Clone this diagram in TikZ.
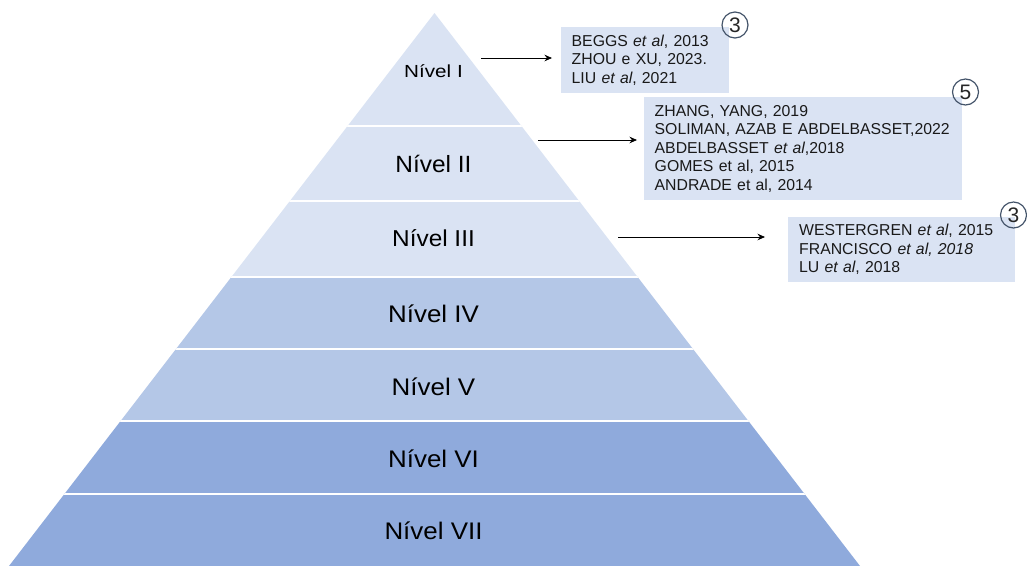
\documentclass[tikz,border=0pt]{standalone}
\usepackage{fontspec}
\setmainfont{Liberation Sans}
\usetikzlibrary{arrows.meta}
\definecolor{lightb}{HTML}{DAE3F3}
\definecolor{midb}{HTML}{B4C7E7}
\definecolor{darkb}{HTML}{8FAADC}
\definecolor{circ}{HTML}{44546A}
\begin{document}
\begin{tikzpicture}[x=1pt,y=-1pt,
  lvl/.style={anchor=base, inner sep=0pt, text=black},
  refbox/.style={fill=lightb, draw=none, anchor=north west, align=left,
     inner ysep=0pt, font=\fontsize{15.8}{18.5}\selectfont, text=black!90},
  num/.style={circle, draw=circ, line width=1.2pt, minimum size=26pt, inner sep=0pt,
     font=\fontsize{21}{22}\selectfont, text=black!85},
  arr/.style={-{Stealth[length=7.5pt,width=6.5pt]}, line width=0.8pt, black}]
\useasboundingbox (0,0) rectangle (1027,566);
% pyramid
\coordinate (apex) at (434.5,13);
\coordinate (bl) at (9,566);
\coordinate (br) at (860,566);
\begin{scope}
  \clip (apex) -- (bl) -- (br) -- cycle;
  \fill[lightb] (0,0) rectangle (1027,276.5);
  \fill[midb] (0,276.5) rectangle (1027,421);
  \fill[darkb] (0,421) rectangle (1027,566);
  \foreach \yy in {125.5,201,276.5,349,421,494}
    \draw[white, line width=2pt] (0,\yy) -- (1027,\yy);
\end{scope}
% level labels
\node[lvl] (l1) at (433.5,77.3) {\fontsize{17.5}{20}\selectfont\scalebox{1.18}[1]{Nível I}};
\node[lvl] (l2) at (433.5,172) {\fontsize{23.5}{26}\selectfont\scalebox{1.04}[1]{Nível II}};
\node[lvl] (l3) at (433.5,246) {\fontsize{23}{26}\selectfont\scalebox{1.06}[1]{Nível III}};
\node[lvl] (l4) at (433.5,322.3) {\fontsize{24}{26}\selectfont\scalebox{1.08}[1]{Nível IV}};
\node[lvl] (l5) at (433.5,395.5) {\fontsize{24}{26}\selectfont\scalebox{1.08}[1]{Nível V}};
\node[lvl] (l6) at (433.5,467) {\fontsize{24}{26}\selectfont\scalebox{1.08}[1]{Nível VI}};
\node[lvl] (l7) at (433.5,539.3) {\fontsize{24}{26}\selectfont\scalebox{1.08}[1]{Nível VII}};
% reference boxes
\node[refbox, inner xsep=10.5pt, text width=147pt, minimum height=66pt] (b1) at (561,27)
  {BEGGS \textit{et al}, 2013\\ZHOU e XU, 2023.\\LIU \textit{et al}, 2021};
\node[refbox, inner xsep=10.5pt, text width=297pt, minimum height=103pt] (b2) at (644,97)
  {ZHANG, YANG, 2019\\SOLIMAN, AZAB E ABDELBASSET,2022\\ABDELBASSET \textit{et al},2018\\GOMES et al, 2015\\ANDRADE et al, 2014};
\node[refbox, inner xsep=11pt, text width=205pt, minimum height=65pt] (b3) at (788,217)
  {WESTERGREN \textit{et al}, 2015\\FRANCISCO \textit{et al, 2018}\\LU \textit{et al}, 2018};
% count circles
\node[num] (c1) at (735,25) {3};
\node[num] (c2) at (965.5,92) {5};
\node[num] (c3) at (1013.5,215) {3};
% arrows
\coordinate (s1) at (481,58);
\coordinate (s2) at (538,140);
\coordinate (s3) at (618,237);
\draw[arr, shorten >=9pt] (s1) -- (s1 -| b1.west);
\draw[arr, shorten >=7pt] (s2) -- (s2 -| b2.west);
\draw[arr, shorten >=23pt] (s3) -- (s3 -| b3.west);
\end{tikzpicture}
\end{document}
